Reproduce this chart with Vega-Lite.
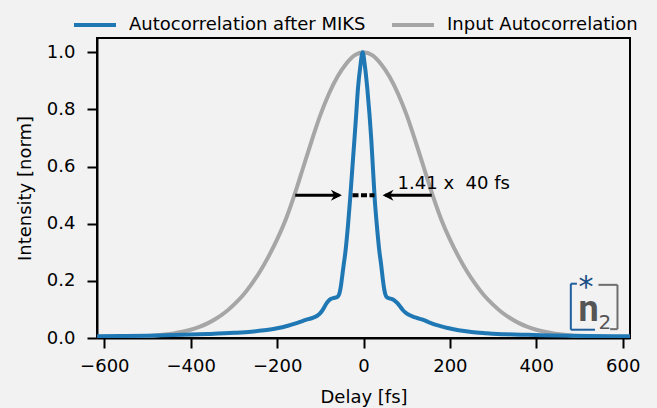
{
  "$schema": "https://vega.github.io/schema/vega-lite/v6.json",
  "width": 533,
  "height": 300,
  "autosize": {"type": "none"},
  "padding": {"left": 97, "top": 38, "right": 27, "bottom": 70},
  "background": "#f2f2f2",
  "config": {
    "view": {"stroke": "#000000", "strokeWidth": 2},
    "font": "DejaVu Sans",
    "axis": {
      "grid": false,
      "domainColor": "#000000",
      "domainWidth": 2,
      "tickColor": "#000000",
      "tickWidth": 2,
      "tickSize": 10,
      "labelFont": "DejaVu Sans",
      "labelFontSize": 18,
      "labelColor": "#000000",
      "titleFont": "DejaVu Sans",
      "titleFontSize": 18,
      "titleFontWeight": "normal",
      "titleColor": "#000000"
    },
    "legend": {
      "labelFont": "DejaVu Sans",
      "labelFontSize": 18,
      "labelColor": "#000000",
      "labelLimit": 400
    }
  },
  "datasets": {
    "gray": [
      {"x": -617, "y": 0.002}, {"x": -580, "y": 0.003}, {"x": -540, "y": 0.004}, {"x": -500, "y": 0.007},
      {"x": -480, "y": 0.009}, {"x": -460, "y": 0.012}, {"x": -440, "y": 0.016}, {"x": -420, "y": 0.022},
      {"x": -400, "y": 0.029}, {"x": -380, "y": 0.039}, {"x": -360, "y": 0.052}, {"x": -340, "y": 0.069},
      {"x": -320, "y": 0.09}, {"x": -300, "y": 0.117}, {"x": -280, "y": 0.148}, {"x": -260, "y": 0.187},
      {"x": -240, "y": 0.232}, {"x": -220, "y": 0.285}, {"x": -200, "y": 0.345}, {"x": -180, "y": 0.415},
      {"x": -160, "y": 0.5}, {"x": -140, "y": 0.595}, {"x": -120, "y": 0.69}, {"x": -100, "y": 0.78},
      {"x": -80, "y": 0.855}, {"x": -60, "y": 0.915}, {"x": -40, "y": 0.96}, {"x": -20, "y": 0.99},
      {"x": 0, "y": 1.0},
      {"x": 20, "y": 0.99}, {"x": 40, "y": 0.96}, {"x": 60, "y": 0.915}, {"x": 80, "y": 0.855},
      {"x": 100, "y": 0.78}, {"x": 120, "y": 0.69}, {"x": 140, "y": 0.595}, {"x": 160, "y": 0.5},
      {"x": 180, "y": 0.415}, {"x": 200, "y": 0.345}, {"x": 220, "y": 0.285}, {"x": 240, "y": 0.232},
      {"x": 260, "y": 0.187}, {"x": 280, "y": 0.148}, {"x": 300, "y": 0.117}, {"x": 320, "y": 0.09},
      {"x": 340, "y": 0.069}, {"x": 360, "y": 0.052}, {"x": 380, "y": 0.039}, {"x": 400, "y": 0.029},
      {"x": 420, "y": 0.022}, {"x": 440, "y": 0.016}, {"x": 460, "y": 0.012}, {"x": 480, "y": 0.009},
      {"x": 500, "y": 0.007}, {"x": 540, "y": 0.004}, {"x": 580, "y": 0.003}, {"x": 617, "y": 0.002}
    ],
    "blue": [
      {"x": -617, "y": 0.006}, {"x": -550, "y": 0.007}, {"x": -480, "y": 0.009}, {"x": -420, "y": 0.011},
      {"x": -360, "y": 0.014}, {"x": -300, "y": 0.018}, {"x": -260, "y": 0.022}, {"x": -230, "y": 0.027},
      {"x": -200, "y": 0.034}, {"x": -175, "y": 0.043}, {"x": -155, "y": 0.052}, {"x": -140, "y": 0.06},
      {"x": -128, "y": 0.066}, {"x": -118, "y": 0.07}, {"x": -108, "y": 0.077}, {"x": -100, "y": 0.087},
      {"x": -93, "y": 0.102}, {"x": -87, "y": 0.118}, {"x": -81, "y": 0.13}, {"x": -75, "y": 0.137},
      {"x": -69, "y": 0.14}, {"x": -63, "y": 0.142}, {"x": -58, "y": 0.148}, {"x": -55, "y": 0.16},
      {"x": -52, "y": 0.185}, {"x": -49, "y": 0.22}, {"x": -46, "y": 0.255}, {"x": -42, "y": 0.3},
      {"x": -36, "y": 0.393}, {"x": -31, "y": 0.486}, {"x": -26, "y": 0.59}, {"x": -21, "y": 0.695},
      {"x": -17, "y": 0.78}, {"x": -13, "y": 0.87}, {"x": -7, "y": 0.955}, {"x": -2, "y": 1.0},
      {"x": 3, "y": 0.955}, {"x": 9, "y": 0.87}, {"x": 14, "y": 0.78}, {"x": 18, "y": 0.695},
      {"x": 22, "y": 0.59}, {"x": 26, "y": 0.486}, {"x": 31, "y": 0.393}, {"x": 37, "y": 0.3},
      {"x": 41, "y": 0.255}, {"x": 44, "y": 0.215}, {"x": 47, "y": 0.18}, {"x": 50, "y": 0.156},
      {"x": 54, "y": 0.143}, {"x": 60, "y": 0.139}, {"x": 66, "y": 0.136}, {"x": 72, "y": 0.131},
      {"x": 78, "y": 0.123}, {"x": 84, "y": 0.112}, {"x": 90, "y": 0.1}, {"x": 97, "y": 0.089},
      {"x": 105, "y": 0.081}, {"x": 114, "y": 0.075}, {"x": 124, "y": 0.07}, {"x": 135, "y": 0.065},
      {"x": 150, "y": 0.056}, {"x": 170, "y": 0.045}, {"x": 195, "y": 0.035}, {"x": 220, "y": 0.027},
      {"x": 250, "y": 0.021}, {"x": 285, "y": 0.017}, {"x": 330, "y": 0.013}, {"x": 380, "y": 0.011},
      {"x": 440, "y": 0.009}, {"x": 520, "y": 0.007}, {"x": 617, "y": 0.006}
    ],
    "shafts": [
      {"x": -158, "x2": -56, "y": 0.5, "y2": 0.5},
      {"x": 158, "x2": 50, "y": 0.5, "y2": 0.5}
    ],
    "heads": [
      {"x": -50, "y": 0.5, "dir": "right"},
      {"x": 44, "y": 0.5, "dir": "left"}
    ],
    "dots": [
      {"x": -25.5, "x2": 25.5, "y": 0.5, "y2": 0.5}
    ],
    "label": [
      {"x": 79, "y": 0.52, "text": "1.41 x \u00a040 fs"}
    ],
    "logoBlue": [
      {"x": 480, "x2": 480, "y": 0.029, "y2": 0.19},
      {"x": 480, "x2": 494, "y": 0.19, "y2": 0.19},
      {"x": 480, "x2": 536, "y": 0.029, "y2": 0.029}
    ],
    "logoGray": [
      {"x": 588, "x2": 588, "y": 0.031, "y2": 0.186},
      {"x": 544, "x2": 588, "y": 0.186, "y2": 0.186},
      {"x": 571, "x2": 588, "y": 0.031, "y2": 0.031}
    ],
    "logoN": [{"x": 521, "y": 0.06, "text": "n"}],
    "logo2": [{"x": 559, "y": 0.031, "text": "2"}],
    "logoStar": [{"x": 515, "y": 0.145, "text": "*"}]
  },
  "encoding": {
    "x": {
      "field": "x",
      "type": "quantitative",
      "scale": {"domain": [-617, 617], "nice": false, "zero": false},
      "axis": {"values": [-600, -400, -200, 0, 200, 400, 600], "title": "Delay [fs]", "labelPadding": 9, "titlePadding": 13}
    },
    "y": {
      "field": "y",
      "type": "quantitative",
      "scale": {"domain": [0, 1.05], "nice": false, "zero": false},
      "axis": {"values": [0, 0.2, 0.4, 0.6, 0.8, 1.0], "format": ".1f", "title": "Intensity [norm]", "labelPadding": 12, "titlePadding": 12}
    }
  },
  "layer": [
    {
      "data": {"name": "gray"},
      "transform": [{"calculate": "'Input Autocorrelation'", "as": "series"}],
      "mark": {"type": "line", "strokeWidth": 4, "interpolate": "monotone", "clip": true},
      "encoding": {
        "color": {
          "field": "series",
          "type": "nominal",
          "scale": {"domain": ["Autocorrelation after MIKS", "Input Autocorrelation"], "range": ["#1f77b4", "#a6a6a6"]},
          "legend": {
            "title": null,
            "orient": "none",
            "direction": "horizontal",
            "legendX": -25,
            "legendY": -36,
            "symbolType": "stroke",
            "symbolSize": 1764,
            "symbolStrokeWidth": 4,
            "labelOffset": 11,
            "columnPadding": 18
          }
        }
      }
    },
    {
      "data": {"name": "blue"},
      "transform": [{"calculate": "'Autocorrelation after MIKS'", "as": "series"}],
      "mark": {"type": "line", "strokeWidth": 4, "interpolate": "monotone", "clip": true},
      "encoding": {
        "color": {"field": "series", "type": "nominal"}
      }
    },
    {
      "data": {"name": "shafts"},
      "mark": {"type": "rule", "color": "#000000", "strokeWidth": 3},
      "encoding": {"x2": {"field": "x2"}, "y2": {"field": "y2"}}
    },
    {
      "data": {"name": "heads"},
      "mark": {"type": "point", "filled": true, "color": "#000000", "opacity": 1, "size": 121},
      "encoding": {
        "shape": {
          "field": "dir",
          "type": "nominal",
          "scale": {"domain": ["right", "left"], "range": ["M-2,-1L0,0L-2,1L-1.4,0Z", "M2,-1L0,0L2,1L1.4,0Z"]},
          "legend": null
        }
      }
    },
    {
      "data": {"name": "dots"},
      "mark": {"type": "rule", "color": "#000000", "strokeWidth": 4, "strokeDash": [6, 2.5]},
      "encoding": {"x2": {"field": "x2"}, "y2": {"field": "y2"}}
    },
    {
      "data": {"name": "label"},
      "mark": {"type": "text", "align": "left", "baseline": "alphabetic", "fontSize": 18, "color": "#000000", "font": "DejaVu Sans"},
      "encoding": {"text": {"field": "text"}}
    },
    {
      "data": {"name": "logoBlue"},
      "mark": {"type": "rule", "color": "#1f5f9e", "strokeWidth": 2},
      "encoding": {"x2": {"field": "x2"}, "y2": {"field": "y2"}}
    },
    {
      "data": {"name": "logoGray"},
      "mark": {"type": "rule", "color": "#6e6e6e", "strokeWidth": 2},
      "encoding": {"x2": {"field": "x2"}, "y2": {"field": "y2"}}
    },
    {
      "data": {"name": "logoN"},
      "mark": {"type": "text", "align": "center", "baseline": "alphabetic", "fontSize": 36, "fontWeight": "bold", "font": "Roboto", "color": "#555555"},
      "encoding": {"text": {"field": "text"}}
    },
    {
      "data": {"name": "logo2"},
      "mark": {"type": "text", "align": "center", "baseline": "alphabetic", "fontSize": 20, "font": "DejaVu Sans", "color": "#555555"},
      "encoding": {"text": {"field": "text"}}
    },
    {
      "data": {"name": "logoStar"},
      "mark": {"type": "text", "align": "center", "baseline": "alphabetic", "fontSize": 30, "font": "DejaVu Sans", "color": "#1a4f86"},
      "encoding": {"text": {"field": "text"}}
    }
  ]
}
